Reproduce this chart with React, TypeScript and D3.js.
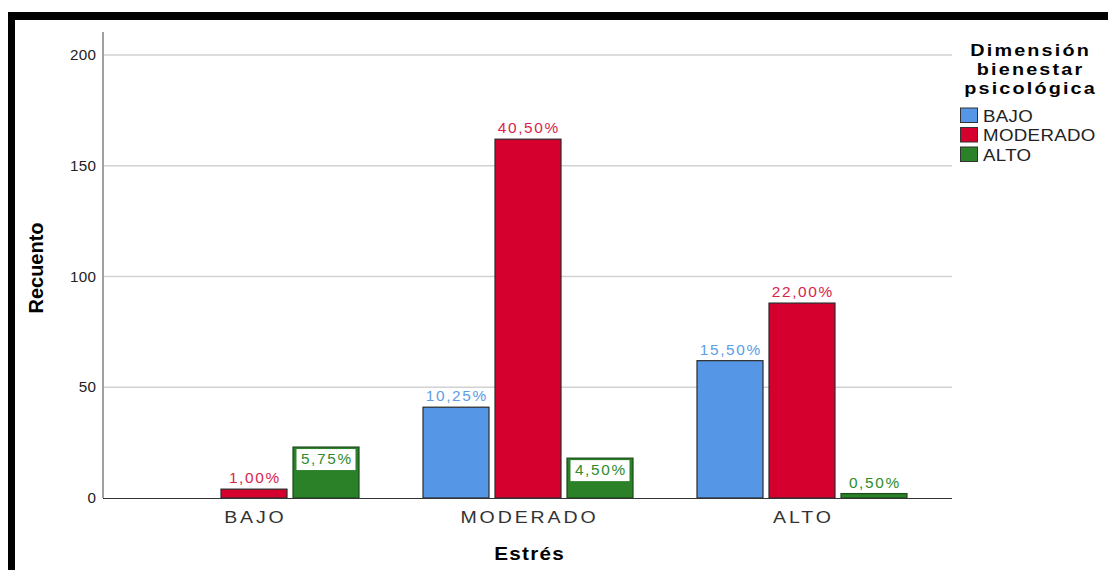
import React from "react";
import * as d3 from "d3";

// Estrés × Dimensión bienestar psicológica (recuento, n = 400)
const categories = ["BAJO", "MODERADO", "ALTO"];
const series = ["BAJO", "MODERADO", "ALTO"];
const counts: number[][] = [
  // per estrés category: [bienestar BAJO, MODERADO, ALTO]
  [0, 4, 23],
  [41, 162, 18],
  [62, 88, 2],
];
const yTicks = [0, 50, 100, 150, 200];
const legendTitle = ["Dimensión", "bienestar", "psicológica"];
const total = 400;

const fills = ["#5596e6", "#d6002f", "#2a8128"];
const labelColors = ["#5b9de8", "#d9244a", "#2e8b2e"];

const W = 1108;
const H = 570;

// text widened horizontally, with letter spacing (trailing space compensated)
function WText(props: {
  x: number;
  y: number;
  ls: number;
  sx: number;
  size: number;
  anchor?: "start" | "middle" | "end";
  bold?: boolean;
  fill: string;
  children: React.ReactNode;
}) {
  const { x, y, ls, sx, size, anchor = "middle", bold, fill, children } = props;
  const dx = anchor === "middle" ? ls / 2 : anchor === "end" ? ls : 0;
  return (
    <text
      transform={`translate(${x},${y}) scale(${sx},1)`}
      x={dx}
      y={0}
      textAnchor={anchor}
      fontSize={size}
      fontWeight={bold ? "bold" : "normal"}
      fill={fill}
      style={{ letterSpacing: `${ls}px` }}
    >
      {children}
    </text>
  );
}

export default function App() {
  const y = d3.scaleLinear().domain([0, 200]).range([498, 55]);
  const x0 = d3.scaleBand<string>().domain(categories).range([117, 939]).paddingInner(0).paddingOuter(0);
  const groupW = 210;
  const x1 = d3.scaleBand<string>().domain(series).range([0, groupW]).paddingInner(6 / 72).paddingOuter(0);
  const fmt = (v: number) => ((v / total) * 100).toFixed(2).replace(".", ",") + "%";
  const font = "Liberation Sans, Arial, sans-serif";

  return (
    <svg
      width={W}
      height={H}
      style={{ position: "absolute", left: 0, top: 0, background: "#fff" }}
      fontFamily={font}
    >
      <rect x={0} y={0} width={W} height={H} fill="#fff" />
      {/* frame */}
      <rect x={8} y={12} width={W - 8} height={8} fill="#000" />
      <rect x={8} y={12} width={7} height={H - 12} fill="#000" />

      {/* gridlines */}
      {yTicks.filter((t) => t > 0).map((t) => (
        <line key={t} x1={103} x2={952} y1={y(t)} y2={y(t)} stroke="#d2d2d2" strokeWidth={1.5} />
      ))}
      {/* y axis */}
      <line x1={103} x2={103} y1={32} y2={498} stroke="#a0a0a0" strokeWidth={2} />
      {yTicks.map((t) => (
        <WText key={t} x={96} y={y(t) + 5} ls={0.3} sx={1.05} size={14.5} anchor="end" fill="#222">
          {t}
        </WText>
      ))}
      <text
        transform={`translate(43,268) rotate(-90)`}
        textAnchor="middle"
        fontFamily="Liberation Sans Narrow, Arial Narrow, sans-serif"
        fontWeight="bold"
        fontSize={20}
        fill="#000"
      >
        Recuento
      </text>

      {/* bars */}
      {categories.map((c, ci) => {
        const gx = (x0(c) as number) + (x0.bandwidth() - groupW) / 2;
        return (
          <g key={c}>
            {series.map((s, si) => {
              const v = counts[ci][si];
              if (v <= 0) return null;
              const bx = gx + (x1(s) as number);
              const bw = x1.bandwidth();
              const top = y(v);
              const h = y(0) - top;
              const inside = si === 2 && h > 25;
              return (
                <g key={s}>
                  <rect
                    x={bx}
                    y={top}
                    width={bw}
                    height={h}
                    fill={fills[si]}
                    stroke={si === 2 ? "#1c4a1c" : "#2a2a2a"}
                    strokeWidth={1.2}
                  />
                  {inside && <rect x={bx + 3.5} y={top + 2} width={bw - 7} height={21} fill="#fff" />}
                  <WText
                    x={bx + bw / 2}
                    y={inside ? top + 17 : top - 6}
                    ls={1.5}
                    sx={1.1}
                    size={14}
                    fill={labelColors[si]}
                  >
                    {fmt(v)}
                  </WText>
                </g>
              );
            })}
          </g>
        );
      })}

      {/* x axis */}
      <line x1={103} x2={952} y1={498.5} y2={498.5} stroke="#333" strokeWidth={1.2} />
      {categories.map((c) => (
        <WText key={c} x={(x0(c) as number) + x0.bandwidth() / 2} y={523} ls={2.5} sx={1.15} size={17} fill="#333">
          {c}
        </WText>
      ))}
      <WText x={529} y={560} ls={1.15} sx={1.12} size={18.5} bold fill="#000">
        Estrés
      </WText>

      {/* legend */}
      <g>
        {legendTitle.map((t, i) => (
          <WText key={t} x={1029.5} y={55.5 + i * 19} ls={1.8} sx={1.2} size={16.5} bold fill="#000">
            {t}
          </WText>
        ))}
        {series.map((s, i) => (
          <g key={s}>
            <rect
              x={960.5}
              y={108 + i * 19.5}
              width={17}
              height={14.5}
              fill={fills[i]}
              stroke="#333"
              strokeWidth={1}
            />
            <WText x={983} y={121.5 + i * 19.5} ls={0.3} sx={1.1} size={17} anchor="start" fill="#222">
              {s}
            </WText>
          </g>
        ))}
      </g>
    </svg>
  );
}
